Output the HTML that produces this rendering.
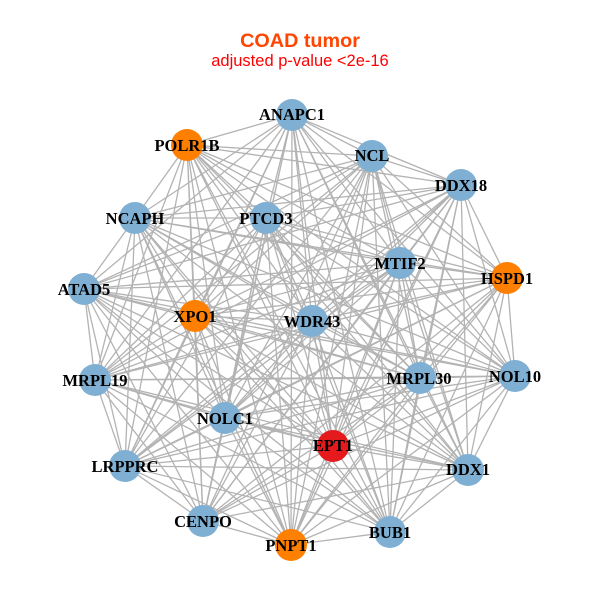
<!DOCTYPE html>
<html><head><meta charset="utf-8"><style>
html,body{margin:0;padding:0;background:#fff;width:600px;height:600px;overflow:hidden}
svg{display:block}
.n text{font:bold 16.5px "Liberation Serif",serif;text-anchor:middle;fill:#000}
</style></head><body>
<svg width="600" height="600" viewBox="0 0 600 600" xmlns="http://www.w3.org/2000/svg">
<rect width="600" height="600" fill="#fff"/>
<text x="300" y="47" text-anchor="middle" font-family="Liberation Sans" font-weight="bold" font-size="19.8" fill="#ff4500">COAD tumor</text>
<text x="300" y="66" text-anchor="middle" font-family="Liberation Sans" font-size="16.5" fill="#ff0000">adjusted p-value &lt;2e-16</text>
<g fill="none" stroke="#b3b3b3" stroke-width="1.3" stroke-linejoin="round">
<path d="M292 115L187 145 292 115 372 156 292 115 461 185 292 115 135 218 292 115 266 218 292 115 400 263 292 115 507 278 292 115 84 289 292 115 195 316 292 115 312 321 292 115 95 380 292 115 420 378 292 115 515 376 292 115 225 418 292 115 333 446 292 115 125 466 292 115 468 470 292 115 203 521 292 115 390 532 292 115 291 545"/>
<path d="M187 145L372 156 187 145 461 185 187 145 135 218 187 145 266 218 187 145 400 263 187 145 507 278 187 145 195 316 187 145 312 321 187 145 95 380 187 145 420 378 187 145 515 376 187 145 225 418 187 145 333 446 187 145 125 466 187 145 468 470 187 145 203 521 187 145 390 532 187 145 291 545"/>
<path d="M372 156L461 185 372 156 135 218 372 156 266 218 372 156 400 263 372 156 507 278 372 156 84 289 372 156 195 316 372 156 312 321 372 156 95 380 372 156 420 378 372 156 515 376 372 156 225 418 372 156 333 446 372 156 125 466 372 156 468 470 372 156 203 521 372 156 390 532 372 156 291 545"/>
<path d="M461 185L135 218 461 185 266 218 461 185 400 263 461 185 507 278 461 185 84 289 461 185 195 316 461 185 312 321 461 185 95 380 461 185 420 378 461 185 515 376 461 185 225 418 461 185 333 446 461 185 125 466 461 185 468 470 461 185 203 521 461 185 390 532 461 185 291 545"/>
<path d="M135 218L266 218 135 218 400 263 135 218 507 278 135 218 84 289 135 218 195 316 135 218 312 321 135 218 95 380 135 218 420 378 135 218 515 376 135 218 225 418 135 218 333 446 135 218 125 466 135 218 468 470 135 218 203 521 135 218 390 532 135 218 291 545"/>
<path d="M266 218L400 263 266 218 507 278 266 218 84 289 266 218 195 316 266 218 312 321 266 218 95 380 266 218 420 378 266 218 515 376 266 218 225 418 266 218 333 446 266 218 125 466 266 218 468 470 266 218 203 521 266 218 390 532 266 218 291 545"/>
<path d="M400 263L507 278 400 263 84 289 400 263 195 316 400 263 312 321 400 263 95 380 400 263 420 378 400 263 515 376 400 263 225 418 400 263 333 446 400 263 125 466 400 263 468 470 400 263 203 521 400 263 390 532 400 263 291 545"/>
<path d="M507 278L84 289 507 278 195 316 507 278 312 321 507 278 95 380 507 278 420 378 507 278 515 376 507 278 225 418 507 278 333 446 507 278 125 466 507 278 468 470 507 278 203 521 507 278 390 532 507 278 291 545"/>
<path d="M84 289L195 316 84 289 312 321 84 289 95 380 84 289 420 378 84 289 515 376 84 289 225 418 84 289 333 446 84 289 125 466 84 289 468 470 84 289 203 521 84 289 390 532 84 289 291 545"/>
<path d="M195 316L312 321 195 316 95 380 195 316 420 378 195 316 515 376 195 316 225 418 195 316 333 446 195 316 125 466 195 316 468 470 195 316 203 521 195 316 390 532 195 316 291 545"/>
<path d="M312 321L95 380 312 321 420 378 312 321 515 376 312 321 225 418 312 321 333 446 312 321 125 466 312 321 468 470 312 321 203 521 312 321 390 532 312 321 291 545"/>
<path d="M95 380L420 378 95 380 515 376 95 380 225 418 95 380 333 446 95 380 125 466 95 380 468 470 95 380 203 521 95 380 390 532 95 380 291 545"/>
<path d="M420 378L515 376 420 378 225 418 420 378 333 446 420 378 125 466 420 378 468 470 420 378 203 521 420 378 390 532 420 378 291 545"/>
<path d="M515 376L225 418 515 376 333 446 515 376 125 466 515 376 468 470 515 376 203 521 515 376 390 532 515 376 291 545"/>
<path d="M225 418L333 446 225 418 125 466 225 418 468 470 225 418 203 521 225 418 390 532 225 418 291 545"/>
<path d="M333 446L125 466 333 446 468 470 333 446 203 521 333 446 390 532 333 446 291 545"/>
<path d="M125 466L468 470 125 466 203 521 125 466 390 532 125 466 291 545"/>
<path d="M468 470L203 521 468 470 390 532 468 470 291 545"/>
<path d="M203 521L291 545"/>
<path d="M390 532L291 545"/>
</g>
<g stroke="none">
<circle cx="292" cy="115" r="16" fill="#7fb0d3"/>
<circle cx="187" cy="145" r="16" fill="#ff7f00"/>
<circle cx="372" cy="156" r="16" fill="#7fb0d3"/>
<circle cx="461" cy="185" r="16" fill="#7fb0d3"/>
<circle cx="135" cy="218" r="16" fill="#7fb0d3"/>
<circle cx="266" cy="218" r="16" fill="#7fb0d3"/>
<circle cx="400" cy="263" r="16" fill="#7fb0d3"/>
<circle cx="507" cy="278" r="16" fill="#ff7f00"/>
<circle cx="84" cy="289" r="16" fill="#7fb0d3"/>
<circle cx="195" cy="316" r="16" fill="#ff7f00"/>
<circle cx="312" cy="321" r="16" fill="#7fb0d3"/>
<circle cx="95" cy="380" r="16" fill="#7fb0d3"/>
<circle cx="420" cy="378" r="16" fill="#7fb0d3"/>
<circle cx="515" cy="376" r="16" fill="#7fb0d3"/>
<circle cx="225" cy="418" r="16" fill="#7fb0d3"/>
<circle cx="333" cy="446" r="16" fill="#e41a1c"/>
<circle cx="125" cy="466" r="16" fill="#7fb0d3"/>
<circle cx="468" cy="470" r="16" fill="#7fb0d3"/>
<circle cx="203" cy="521" r="16" fill="#7fb0d3"/>
<circle cx="390" cy="532" r="16" fill="#7fb0d3"/>
<circle cx="291" cy="545" r="16" fill="#ff7f00"/>
</g>
<g class="n">
<text x="292" y="120">ANAPC1</text>
<text x="187" y="151">POLR1B</text>
<text x="372" y="161">NCL</text>
<text x="461" y="191">DDX18</text>
<text x="135" y="224">NCAPH</text>
<text x="266" y="224">PTCD3</text>
<text x="400" y="269">MTIF2</text>
<text x="507" y="284">HSPD1</text>
<text x="84" y="295">ATAD5</text>
<text x="195" y="322">XPO1</text>
<text x="312" y="327">WDR43</text>
<text x="95" y="386">MRPL19</text>
<text x="419" y="384">MRPL30</text>
<text x="515" y="382">NOL10</text>
<text x="225" y="424">NOLC1</text>
<text x="333" y="451">EPT1</text>
<text x="125" y="472">LRPPRC</text>
<text x="468" y="475">DDX1</text>
<text x="203" y="527">CENPO</text>
<text x="390" y="538">BUB1</text>
<text x="291" y="551">PNPT1</text>
</g>
</svg>
</body></html>
